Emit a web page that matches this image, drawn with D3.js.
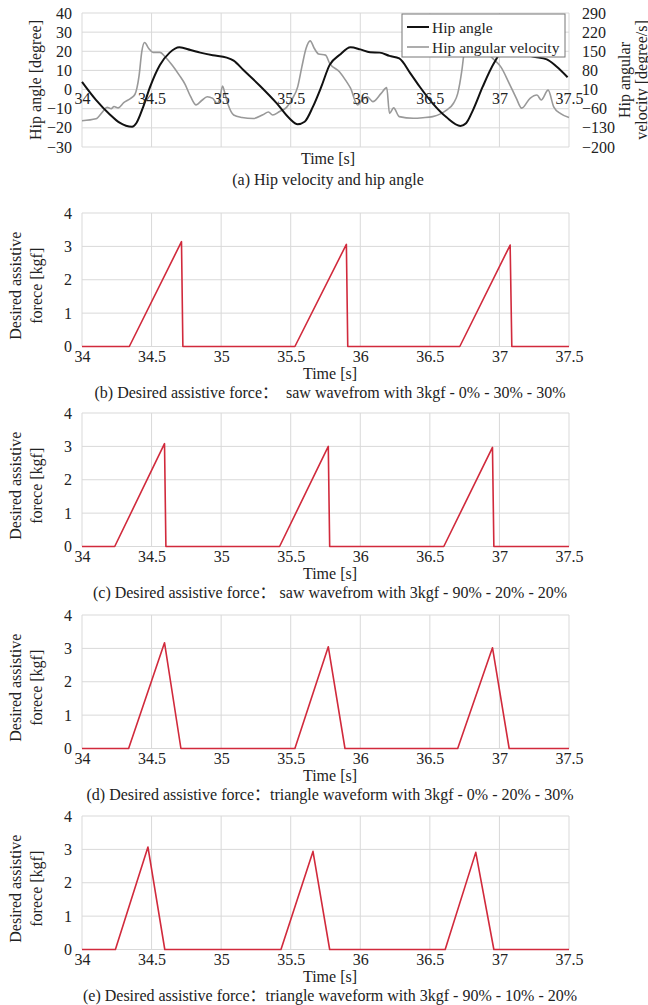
<!DOCTYPE html>
<html>
<head>
<meta charset="utf-8">
<script src="https://cdn.jsdelivr.net/npm/d3@7/dist/d3.min.js"></script>
<style>
  body { margin: 0; background: #fff; }
  svg text { font-family: "Liberation Serif", "Noto Sans CJK SC", serif; fill: #222; }
</style>
</head>
<body>
<svg id="chart" width="648" height="1005"></svg>
<script>
// ---- data ----
const timeTicks = [34, 34.5, 35, 35.5, 36, 36.5, 37, 37.5];
const angleTicks = [-30, -20, -10, 0, 10, 20, 30, 40];
const velTicks = [-200, -130, -60, 10, 80, 150, 220, 290];
const forceTicks = [0, 1, 2, 3, 4];

// hip angle [degree]
const angleTime = [34.00, 34.10, 34.20, 34.27, 34.36, 34.39, 34.44, 34.49, 34.56, 34.63, 34.70, 34.78,
  34.85, 34.94, 35.04, 35.09, 35.16, 35.28, 35.40, 35.49, 35.55, 35.60, 35.66, 35.72, 35.78, 35.85,
  35.93, 36.00, 36.07, 36.14, 36.21, 36.28, 36.36, 36.43, 36.52, 36.62, 36.72, 36.76, 36.81, 36.88,
  36.96, 37.03, 37.09, 37.15, 37.24, 37.34, 37.41, 37.49];
const angleVal = [4, -5.4, -13, -17.3, -19.4, -17.6, -9, 1.5, 12.8, 19.3, 22.1, 20.7,
  19.3, 17.9, 16.7, 15.1, 10.2, 1.9, -7.2, -15, -18.1, -16.8, -8.9, 1.5, 12.9, 18,
  22.1, 21, 19.5, 19.3, 17.6, 16.3, 8.5, 1.2, -7.2, -14.5, -19, -17.6, -10.7, 1.5,
  13.7, 20.7, 21, 19.3, 17.2, 15.8, 12, 6.4];

// hip angular velocity [degree/s]
const velTime = [34.00, 34.10, 34.15, 34.18, 34.21, 34.23, 34.26, 34.30, 34.35, 34.38, 34.41, 34.43,
  34.45, 34.48, 34.51, 34.56, 34.60, 34.65, 34.70, 34.74, 34.78, 34.82, 34.86, 34.90, 34.94, 34.97,
  34.99, 35.01, 35.03, 35.05, 35.09, 35.15, 35.23, 35.30, 35.34, 35.37, 35.42, 35.47, 35.51, 35.55,
  35.58, 35.61, 35.64, 35.67, 35.70, 35.75, 35.78, 35.85, 35.90, 35.93, 35.98, 36.02, 36.05, 36.09,
  36.15, 36.19, 36.21, 36.24, 36.28, 36.38, 36.45, 36.52, 36.58, 36.62, 36.67, 36.70, 36.73, 36.75,
  36.77, 36.80, 36.84, 36.91, 36.96, 37.01, 37.07, 37.12, 37.16, 37.22, 37.27, 37.30, 37.35, 37.39,
  37.44, 37.50];
const velVal = [-104, -97, -70, -55, -60, -52, -57, -38, -22, -8, 60, 150,
  182, 160, 146, 146, 128, 98, 62, 30, -15, -46, -30, -16, -22, -40,
  -25, 23, -10, -45, -83, -92, -96, -82, -72, -83, -70, -55, -25, 20,
  93, 160, 188, 160, 140, 136, 106, 75, 40, 15, -46, -25, -16, -34,
  -4, 17, -77, -57, -89, -95, -93, -89, -78, -65, -40, -5, 80, 160,
  194, 170, 155, 143, 120, 93, 33, -20, -58, -22, -10, -28, 8, -53,
  -78, -92];

// desired assistive force [kgf], one pair of arrays per panel
const forceTimeB = [34, 34.34, 34.715, 34.725, 35.53, 35.90, 35.91, 36.715, 37.077, 37.089, 37.5];
const forceValB  = [0, 0, 3.14, 0, 0, 3.06, 0, 0, 3.04, 0, 0];
const forceTimeC = [34, 34.235, 34.593, 34.603, 35.42, 35.77, 35.78, 36.60, 36.95, 36.96, 37.5];
const forceValC  = [0, 0, 3.08, 0, 0, 3.0, 0, 0, 2.97, 0, 0];
const forceTimeD = [34, 34.335, 34.593, 34.711, 35.53, 35.77, 35.89, 36.70, 36.95, 37.07, 37.5];
const forceValD  = [0, 0, 3.17, 0, 0, 3.05, 0, 0, 3.02, 0, 0];
const forceTimeE = [34, 34.24, 34.474, 34.595, 35.43, 35.66, 35.78, 36.61, 36.83, 36.96, 37.5];
const forceValE  = [0, 0, 3.07, 0, 0, 2.94, 0, 0, 2.91, 0, 0];

const captions = [
  "(b) Desired assistive force\uFF1A  saw wavefrom with 3kgf - 0% - 30% - 30%",
  "(c) Desired assistive force\uFF1A saw wavefrom with 3kgf - 90% - 20% - 20%",
  "(d) Desired assistive force\uFF1Atriangle waveform with 3kgf - 0% - 20% - 30%",
  "(e) Desired assistive force\uFF1Atriangle waveform with 3kgf - 90% - 10% - 20%"
];

// ---- layout ----
const FONT = '"Liberation Serif", "Noto Sans CJK SC", serif';
const svg = d3.select("#chart");
const left = 82, right = 569;
const gridColor = "#d9d9d9";
const red = "#d12a3c";
const fs = 16;

const x = d3.scaleLinear().domain([34, 37.5]).range([left, right]);

function grid(g, yScale, yTicks, top, bottom) {
  g.append("g")
    .selectAll("line")
    .data(timeTicks)
    .enter()
    .append("line")
    .attr("x1", d => x(d)).attr("x2", d => x(d))
    .attr("y1", top).attr("y2", bottom)
    .attr("stroke", gridColor).attr("stroke-width", 1);
  g.append("g")
    .selectAll("line")
    .data(yTicks)
    .enter()
    .append("line")
    .attr("x1", left).attr("x2", right)
    .attr("y1", d => yScale(d)).attr("y2", d => yScale(d))
    .attr("stroke", gridColor).attr("stroke-width", 1);
}

function cleanAxis(sel, size) {
  sel.attr("font-family", null).attr("font-size", null);
  sel.select(".domain").remove();
  sel.selectAll("text")
    .style("font-family", FONT)
    .style("font-size", size + "px")
    .attr("fill", "#222");
}

function label(g, tx, ty, rot, size, txt) {
  return g.append("text")
    .attr("transform", `translate(${tx},${ty})` + (rot ? " rotate(-90)" : ""))
    .attr("text-anchor", "middle").attr("dominant-baseline", "central")
    .style("font-family", FONT)
    .style("font-size", size + "px").style("white-space", "pre")
    .text(txt);
}

// ---- (a) hip angle / angular velocity ----
const topA = 13, botA = 147;
const yA = d3.scaleLinear().domain([-30, 40]).range([botA, topA]);
const yV = d3.scaleLinear().domain([-200, 290]).range([botA, topA]);
const gA = svg.append("g");
grid(gA, yA, angleTicks, topA, botA);

gA.append("g")
  .attr("transform", `translate(${left},0)`)
  .call(d3.axisLeft(yA).tickValues(angleTicks).tickFormat(d3.format("d")).tickSize(0).tickPadding(10))
  .call(s => cleanAxis(s, fs));
gA.append("g")
  .attr("transform", `translate(${right},0)`)
  .call(d3.axisRight(yV).tickValues(velTicks).tickFormat(d3.format("d")).tickSize(0).tickPadding(13))
  .call(s => cleanAxis(s, fs));

const lineV = d3.line().x((d, i) => x(velTime[i])).y(d => yV(d)).curve(d3.curveMonotoneX);
const lineA = d3.line().x((d, i) => x(angleTime[i])).y(d => yA(d)).curve(d3.curveMonotoneX);

gA.append("path").datum(velVal).attr("d", lineV)
  .attr("fill", "none").attr("stroke", "#999").attr("stroke-width", 1.6);
gA.append("path").datum(angleVal).attr("d", lineA)
  .attr("fill", "none").attr("stroke", "#111").attr("stroke-width", 2);

// time labels sit on the zero line
gA.append("g")
  .attr("transform", `translate(0,${yA(0)})`)
  .call(d3.axisBottom(x).tickValues(timeTicks).tickFormat(d3.format("")).tickSize(0).tickPadding(3))
  .call(s => cleanAxis(s, fs));

label(gA, 35, (topA + botA) / 2, true, fs, "Hip angle [degree]");
label(gA, 624, (topA + botA) / 2, true, fs, "Hip angular");
label(gA, 641, (topA + botA) / 2, true, fs, "velocity [degree/s]");
label(gA, 328, 158, false, fs, "Time [s]");
label(gA, 328, 179, false, fs, "(a) Hip velocity and hip angle");

// legend
const legend = gA.append("g").attr("transform", "translate(402,14)");
legend.append("rect").attr("width", 163).attr("height", 43)
  .attr("fill", "#fff").attr("stroke", "#777").attr("stroke-width", 1);
const legendItems = [["Hip angle", "#111", 2], ["Hip angular velocity", "#999", 1.6]];
legendItems.forEach((d, i) => {
  const yy = 13 + i * 20;
  legend.append("line").attr("x1", 5).attr("x2", 27).attr("y1", yy).attr("y2", yy)
    .attr("stroke", d[1]).attr("stroke-width", d[2]);
  legend.append("text").attr("x", 30).attr("y", yy)
    .attr("dominant-baseline", "central")
    .style("font-family", FONT).style("font-size", "15.5px").text(d[0]);
});

// ---- (b)-(e) desired assistive force ----
const panels = [
  { top: 213, t: forceTimeB, f: forceValB },
  { top: 413, t: forceTimeC, f: forceValC },
  { top: 615, t: forceTimeD, f: forceValD },
  { top: 816, t: forceTimeE, f: forceValE }
];
const panelH = 133.5;

panels.forEach((p, k) => {
  const bottom = p.top + panelH;
  const y = d3.scaleLinear().domain([0, 4]).range([bottom, p.top]);
  const g = svg.append("g");
  grid(g, y, forceTicks, p.top, bottom);

  g.append("g")
    .attr("transform", `translate(${left},0)`)
    .call(d3.axisLeft(y).tickValues(forceTicks).tickFormat(d3.format("d")).tickSize(0).tickPadding(10))
    .call(s => cleanAxis(s, fs));
  g.append("g")
    .attr("transform", `translate(0,${bottom})`)
    .call(d3.axisBottom(x).tickValues(timeTicks).tickFormat(d3.format("")).tickSize(0).tickPadding(4))
    .call(s => cleanAxis(s, fs));

  const line = d3.line().x((d, i) => x(p.t[i])).y(d => y(d));
  g.append("path").datum(p.f).attr("d", line)
    .attr("fill", "none").attr("stroke", red).attr("stroke-width", 1.6)
    .attr("stroke-linejoin", "round");

  const midY = (p.top + bottom) / 2 + 6;
  label(g, 15, midY, true, fs, "Desired assistive");
  label(g, 36, midY, true, fs, "forece [kgf]");
  label(g, 330, bottom + 27, false, fs, "Time [s]");
  label(g, 330, bottom + 46, false, fs, captions[k]);
});
</script>
</body>
</html>
